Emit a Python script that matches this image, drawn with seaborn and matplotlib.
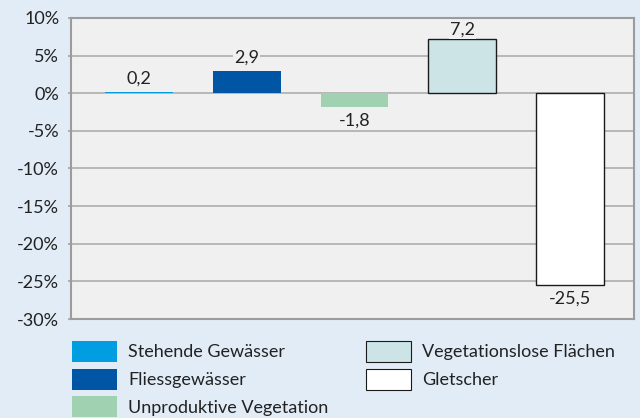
import matplotlib
matplotlib.use("Agg")
import matplotlib.pyplot as plt
import matplotlib.patches as mpatches
import seaborn as sns
import pandas as pd

# Change in area per land-cover class, in percent
categories = ["Stehende Gewässer", "Fliessgewässer", "Unproduktive Vegetation",
              "Vegetationslose Flächen", "Gletscher"]
values = [0.2, 2.9, -1.8, 7.2, -25.5]
colors = ["#009ee0", "#0055a5", "#a0d2b1", "#cde4e6", "#ffffff"]
yticks = [10, 5, 0, -5, -10, -15, -20, -25, -30]

df = pd.DataFrame({"Kategorie": categories, "Wert": values})

sns.set_theme(style="white")
plt.rcParams["font.family"] = ["Lato", "DejaVu Sans"]

fig_bg = "#e1ecf6"
ax_bg = "#f0f0f0"
frame = "#9c9c9c"
txt = "#222222"
fs = 13

fig = plt.figure(figsize=(6.4, 4.18), dpi=100, facecolor=fig_bg)
ax = fig.add_axes([0.111, 0.2368, 0.879, 0.7202])
ax.set_facecolor(ax_bg)

sns.barplot(data=df, x="Kategorie", y="Wert", hue="Kategorie",
            palette=colors, hue_order=categories, order=categories,
            width=0.63, legend=False, saturation=1, ax=ax, zorder=3)

ax.set_ylim(-30, 10)
ax.set_xlim(-0.63, 4.59)
ax.set_yticks(yticks)
ax.set_yticklabels([f"{v}%" for v in yticks], fontsize=fs, color=txt)
ax.set_xticks([])
ax.set_xlabel("")
ax.set_ylabel("")

ax.grid(axis="y", color="#a8a8a8", linewidth=1.1, zorder=0)
ax.set_axisbelow(True)
ax.tick_params(axis="y", which="both", left=True, length=2.5, width=1.1,
               color=frame, pad=6)
for sp in ax.spines.values():
    sp.set_color(frame)
    sp.set_linewidth(1.5)
    sp.set_visible(True)

edged = [False, False, False, True, True]
paddings = [4, 4, 4, 1, 4]
for cont, val, e, pad in zip(ax.containers, values, edged, paddings):
    for p in cont.patches:
        if e:
            p.set_edgecolor("#1a1a1a")
            p.set_linewidth(1.0)
        else:
            p.set_linewidth(0)
    lbl = f"{val:.1f}".replace(".", ",")
    ax.bar_label(cont, labels=[lbl], padding=pad, fontsize=fs, color=txt,
                 bbox=dict(facecolor=ax_bg, edgecolor="none", pad=0.6))

handles = []
for c, e, name in zip(colors, edged, categories):
    handles.append(mpatches.Patch(facecolor=c,
                                  edgecolor="#1a1a1a" if e else c,
                                  linewidth=0.8 if e else 0, label=name))

leg_kw = dict(frameon=False, fontsize=fs, handlelength=2.5, handleheight=1.41,
              handletextpad=0.6, labelspacing=0.37, borderpad=0,
              borderaxespad=0, loc="upper left", labelcolor=txt)
leg1 = fig.legend(handles=handles[:3], bbox_to_anchor=(72 / 640, 1 - 341 / 418),
                  **leg_kw)
leg2 = fig.legend(handles=handles[3:], bbox_to_anchor=(366 / 640, 1 - 341 / 418),
                  **leg_kw)

fig.savefig("out.png", dpi=100, facecolor=fig_bg)
